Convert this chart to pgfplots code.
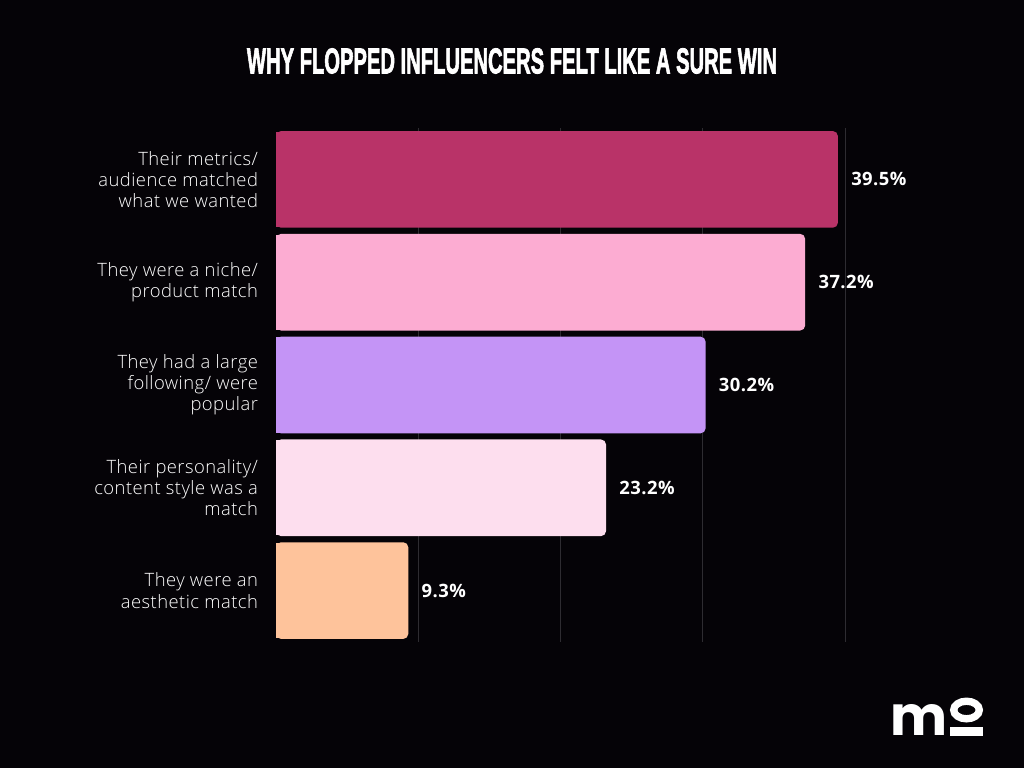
\documentclass[border=0pt]{standalone}
\usepackage{pgfplots}
\pgfplotsset{compat=1.18}
\usepackage{fontspec}
\setmainfont{Open Sans}[LetterSpace=2.5]
\newfontfamily\lightfont{Open Sans Light}[LetterSpace=2.5]
\newfontfamily\titlefont[FakeBold=2.5]{Liberation Sans}
\newfontfamily\logofont{Poppins}
\definecolor{bgc}{HTML}{050307}
\definecolor{gridc}{HTML}{2E2C31}
\definecolor{cA}{RGB}{185,51,104}
\definecolor{cB}{RGB}{252,172,210}
\definecolor{cC}{RGB}{196,148,246}
\definecolor{cD}{RGB}{253,222,238}
\definecolor{cE}{RGB}{254,195,155}
\newcommand\px[2]{({0.75*#1pt},{0.75*(768-#2)*1pt})}
\begin{document}
\begin{tikzpicture}
\fill[bgc] (0,0) rectangle (768pt,576pt);
\node[white] at \px{512}{61} {\resizebox{397.5pt}{18.75pt}{\titlefont\bfseries WHY FLOPPED INFLUENCERS FELT LIKE A SURE WIN}};
\begin{axis}[
  at={(207pt,94.5pt)}, anchor=south west,
  scale only axis, width=426.75pt, height=385.5pt,
  xmin=0, xmax=40, ymin=-0.5, ymax=4.5,
  xbar, bar width=0.94, bar shift=0pt,
  axis line style={draw=none},
  xtick={10,20,30,40}, xticklabels={}, xmajorgrids,
  major grid style={gridc, line width=0.75pt},
  ytick={0,1,2,3,4},
  yticklabels={They were an\\aesthetic match, Their personality/\\content style was a\\match, They had a large\\following/ were\\popular, They were a niche/\\product match, Their metrics/\\audience matched\\what we wanted},
  yticklabel style={align=right, text=white, font=\lightfont\fontsize{13.8pt}{15.9pt}\selectfont, xshift=-10pt},
  major tick length=0pt,
  tick style={draw=none},
  clip=false,
  point meta=x,
  /pgf/number format/assume math mode=true,
  nodes near coords={\pgfmathprintnumber[fixed,precision=1,fixed zerofill,assume math mode=true]{\pgfplotspointmeta}\%},
  nodes near coords style={text=white, font=\fontsize{13.8pt}{15pt}\selectfont\bfseries, anchor=west, xshift=6.5pt},
  half/.style={draw=none, nodes near coords={}, bar width=0.925, x filter/.expression={x/2}},
]
\addplot[fill=cA, draw=none, rounded corners=3.75pt] coordinates {(39.5,4)};
\addplot[fill=cA, half] coordinates {(39.5,4)};
\addplot[fill=cB, draw=none, rounded corners=3.75pt] coordinates {(37.2,3)};
\addplot[fill=cB, half] coordinates {(37.2,3)};
\addplot[fill=cC, draw=none, rounded corners=3.75pt] coordinates {(30.2,2)};
\addplot[fill=cC, half] coordinates {(30.2,2)};
\addplot[fill=cD, draw=none, rounded corners=3.75pt] coordinates {(23.2,1)};
\addplot[fill=cD, half] coordinates {(23.2,1)};
\addplot[fill=cE, draw=none, rounded corners=3.75pt] coordinates {(9.3,0)};
\addplot[fill=cE, half] coordinates {(9.3,0)};
\end{axis}
% logo
\node[white, inner sep=0pt, anchor=south west] at \px{890}{736} {\resizebox{42.75pt}{23.25pt}{\logofont\bfseries m}};
\draw[white, line width=5.5pt] \px{966.5}{710} ellipse (9.6pt and 6.6pt);
\fill[white] \px{950}{727} rectangle \px{983}{736};
\end{tikzpicture}
\end{document}
